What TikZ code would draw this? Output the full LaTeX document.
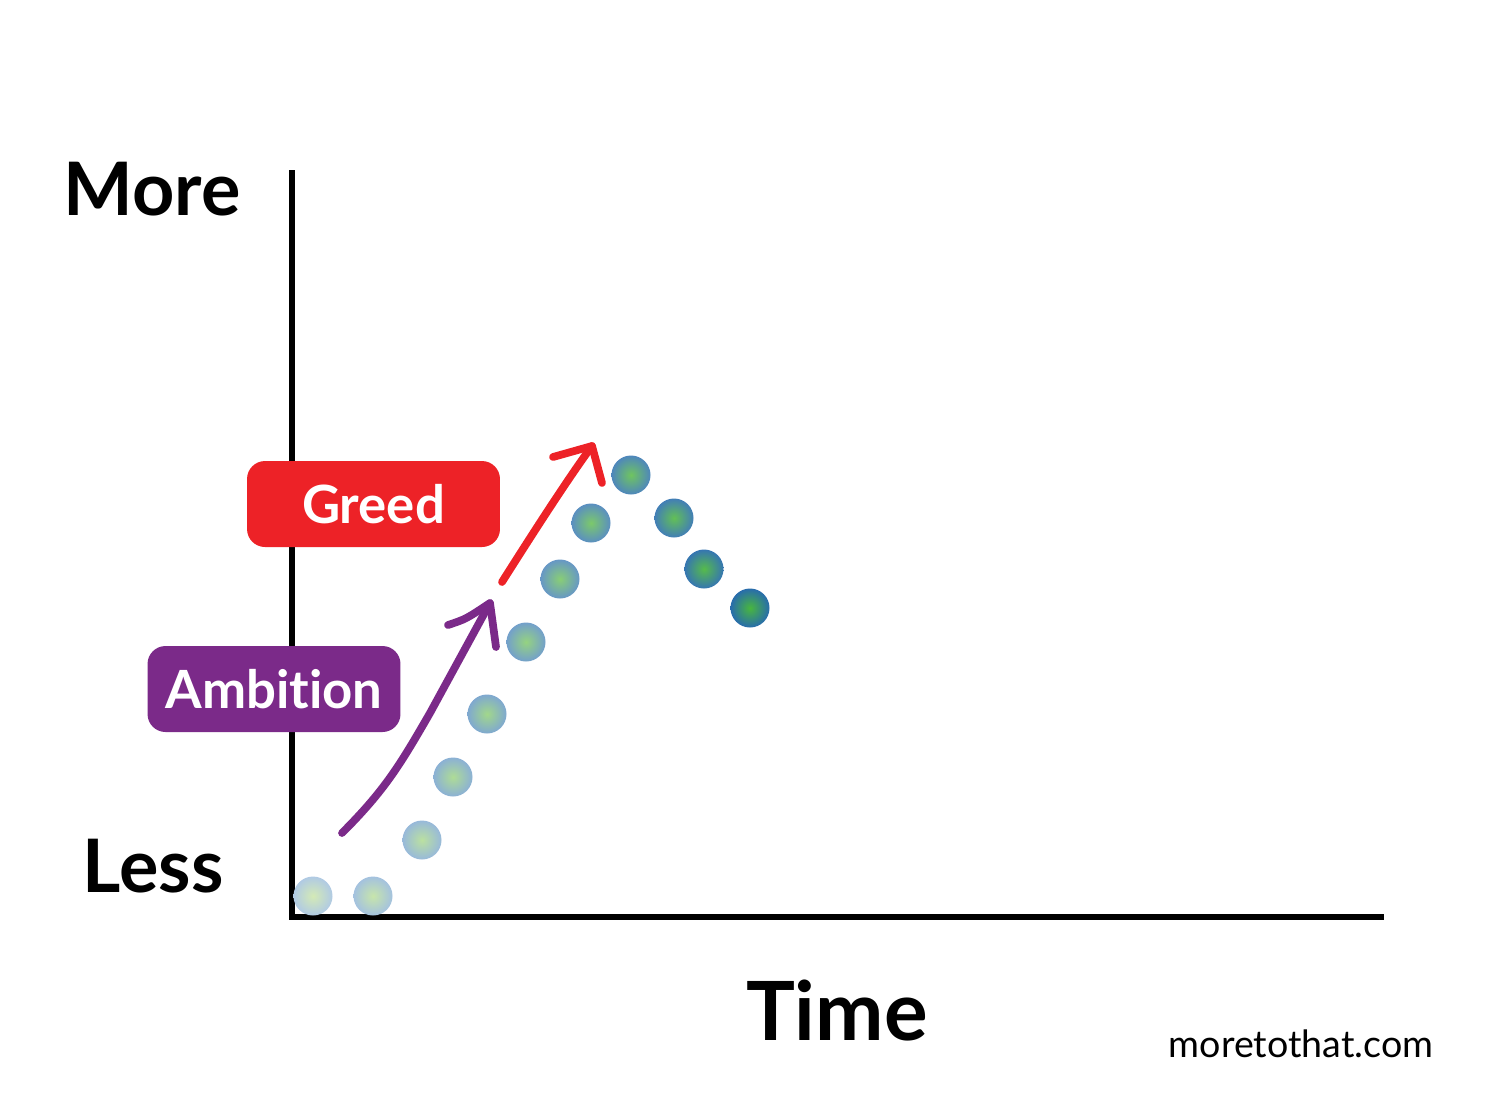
\documentclass[tikz,border=0pt]{standalone}
\usepackage{fontspec}
\setmainfont{Lato}[Ligatures=NoCommon]
\definecolor{greedred}{RGB}{237,34,39}
\definecolor{ambpurple}{RGB}{123,42,137}
\definecolor{edgeA}{RGB}{176,202,228}
\definecolor{edgeB}{RGB}{40,108,172}
\definecolor{coreA}{RGB}{212,234,182}
\definecolor{coreB}{RGB}{72,182,62}
\tikzset{
  axisline/.style={line width=3.6pt, line join=miter},
  bigword/.style={inner sep=0pt, anchor=base, font=\bfseries\fontsize{42}{50}\selectfont},
  tag/.style={rounded corners=0.36cm, inner sep=0pt, minimum width=5.06cm, minimum height=1.72cm,
              text=white, font=\bfseries\fontsize{30}{36}\selectfont},
  trend/.style={line width=4.4pt, line cap=round, line join=round},
  dotnode/.style={circle, inner sep=0pt, minimum size=0.78cm}
}
\begin{document}
\begin{tikzpicture}[x=0.02cm,y=-0.02cm]
\useasboundingbox[fill=white] (0,0) rectangle (1500,1100);
% axes
\coordinate (ytop) at (292,170);
\coordinate (origin) at (292,917);
\coordinate (xend) at (1384,917);
\draw[axisline] (ytop) -- (origin) -- (xend);
% labels
\node[bigword] (more) at (152,215) {More};
\node[bigword] (less) at (153,892) {Less};
\node[bigword, font=\bfseries\fontsize{46.5}{54}\selectfont] (time) at (837,1040) {Time};
\node[inner sep=0pt, anchor=base, font=\fontsize{21.4}{26}\selectfont] (site) at (1301,1057) {moretothat.com};
% dots
\foreach \px/\py [count=\i from 0] in {313/896,373/896,422/840,453/777,487/714,526/642,560/579,591/523,631/475,674/518,704/569,750/608}{
  \pgfmathtruncatemacro\p{100*\i/11}
  \node[dotnode, inner color=coreB!\p!coreA, outer color=edgeB!\p!edgeA] (d\i) at (\px,\py) {};
}
% tags
\node[tag, fill=greedred] (greed) at (373.5,504) {Greed};
\node[tag, fill=ambpurple] (ambition) at (274,689) {Ambition};
% purple arrow
\coordinate (pstart) at (342,833);
\coordinate (ptip) at (490,603);
\coordinate (pleft) at (448,625);
\coordinate (pright) at (496,647);
\draw[trend, ambpurple] (pstart) .. controls (385,790) and (400,765) .. (430,713) -- (ptip);
\draw[trend, ambpurple] (pleft) .. controls (466,619) .. (ptip) -- (pright);
% red arrow
\coordinate (rstart) at (502,582);
\coordinate (rtip) at (592,446);
\coordinate (rleft) at (553,457);
\coordinate (rright) at (602,483);
\draw[trend, greedred] (rstart) .. controls (540,522) and (570,476) .. (rtip);
\draw[trend, greedred] (rleft) -- (rtip) -- (rright);
\end{tikzpicture}
\end{document}
